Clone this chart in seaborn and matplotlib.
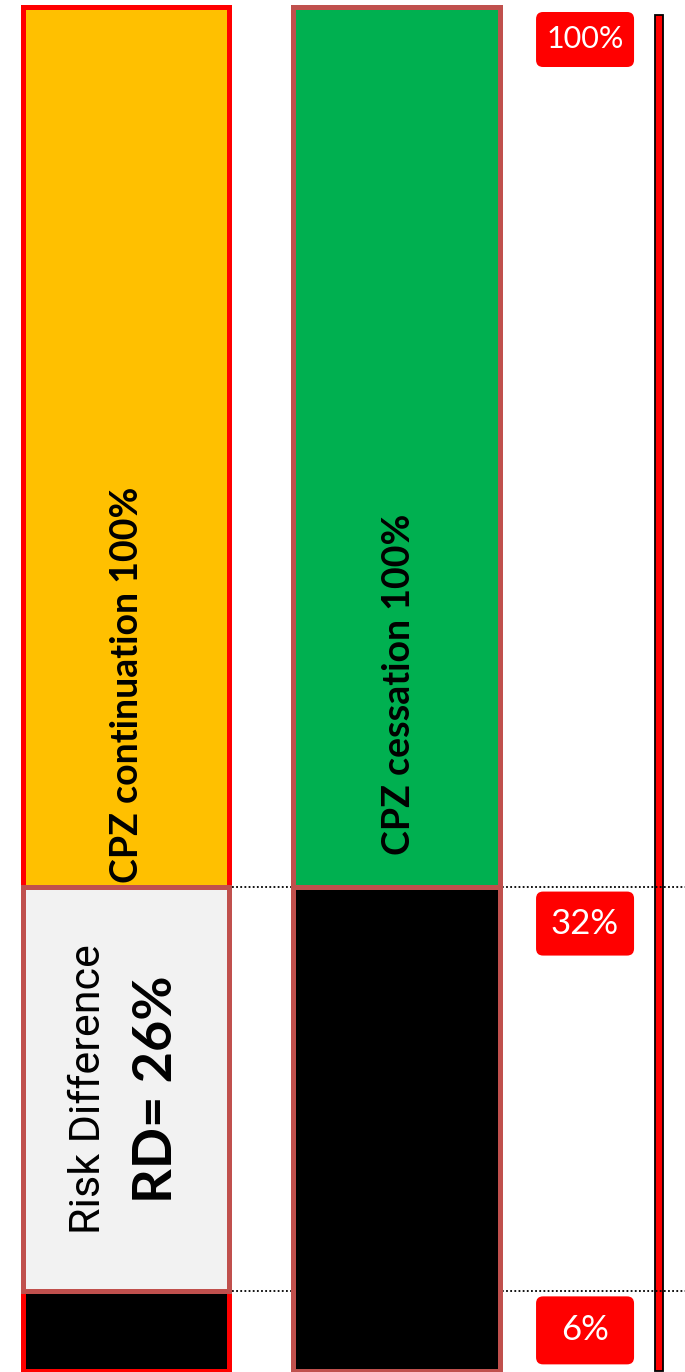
import numpy as np
import pandas as pd
import seaborn as sns
import matplotlib.pyplot as plt
import matplotlib.transforms as mtransforms
from matplotlib.patches import FancyBboxPatch

sns.set_theme(style="white")
plt.rcParams['font.family'] = ['Lato', 'DejaVu Sans']
plt.rcParams['text.color'] = 'black'

# data
groups = ["CPZ continuation", "CPZ cessation"]
total_pct = [100, 100]
event_pct = [6, 32]
risk_difference = 26
bar_texts = ["CPZ continuation 100%", "CPZ cessation 100%"]
level_values = [100, 32, 6]
level_labels = ["100%", "32%", "6%"]
axis_line_pct = 99.4

# schematic axis: piecewise linear so the small segments are readable
breaks_pct = np.array([-10, 0, 6, 32, 100, 110])
breaks_px = np.array([-133.3, 0, 80, 485, 1365, 1494.4])

def fwd(v):
    return np.interp(v, breaks_pct, breaks_px)

def inv(v):
    return np.interp(v, breaks_px, breaks_pct)

fig = plt.figure(figsize=(6.85, 13.72), dpi=100)
ax = fig.add_axes([0, 0, 1, 1])

df = pd.DataFrame({"group": groups, "total": total_pct})
bw = 0.765
sns.barplot(data=df, x="group", y="total", hue="group", palette=["#FFC000", "#00B050"],
            saturation=1, width=bw, linewidth=3.6, edgecolor="#C0504D", legend=False,
            ax=ax, zorder=3)
ax.patches[0].set_edgecolor("#FF0000")

# black = event part, grey = risk difference box
ax.bar([0, 1], event_pct, width=bw, color="black", edgecolor=["#FF0000", "#C0504D"],
       linewidth=3.6, zorder=4)
ax.bar(0, risk_difference, bottom=event_pct[0], width=bw, color="#F2F2F2",
       edgecolor="#C0504D", linewidth=3.6, zorder=5)

# red scale line on the right
ax.bar(1.970, axis_line_pct, width=0.032, color="#FF0000", edgecolor="black",
       linewidth=1.3, zorder=1)

ax.set_yscale('function', functions=(fwd, inv))
ax.set_xlim(-0.4658, 2.0665)
ax.set_ylim(-0.05, inv(1372))
ax.axis('off')

ax.hlines(level_values[1:], 0.392, 2.0665, colors="black", linestyles=(0, (1, 1.3)),
          linewidth=1.3, zorder=2)

# text inside bars
ax.text(0.0055, 47.6, bar_texts[0], rotation=90, ha='center', va='center',
        fontsize=27, fontweight='bold', color='black', zorder=6)
ax.text(1.009, 47.6, bar_texts[1], rotation=90, ha='center', va='center',
        fontsize=27, fontweight='bold', color='black', zorder=6)
ax.text(-0.140, 19, "Risk Difference", rotation=90, ha='center', va='center',
        fontsize=31, family=['Roboto', 'DejaVu Sans'], color='black', zorder=6)
ax.text(0.111, 19, f"RD= {risk_difference}%", rotation=90, ha='center', va='center',
        fontsize=39, fontweight='bold', color='black', zorder=6)

# red label boxes just under each level
ident = mtransforms.IdentityTransform()
for v, lab, h, fs in zip(level_values, level_labels, [55, 64, 68], [22, 25, 25]):
    cx, cy = ax.transData.transform((1.697, v))
    top = cy - 5
    box = FancyBboxPatch((cx - 49, top - h), 98, h, boxstyle="round,pad=0,rounding_size=7",
                         transform=ident, facecolor="#FF0000", edgecolor="none", zorder=6)
    ax.add_patch(box)
    ax.text(cx, top - h / 2, lab, transform=ident, ha='center', va='center',
            color="white", fontsize=fs, zorder=7)

fig.savefig("out.png", dpi=100)
